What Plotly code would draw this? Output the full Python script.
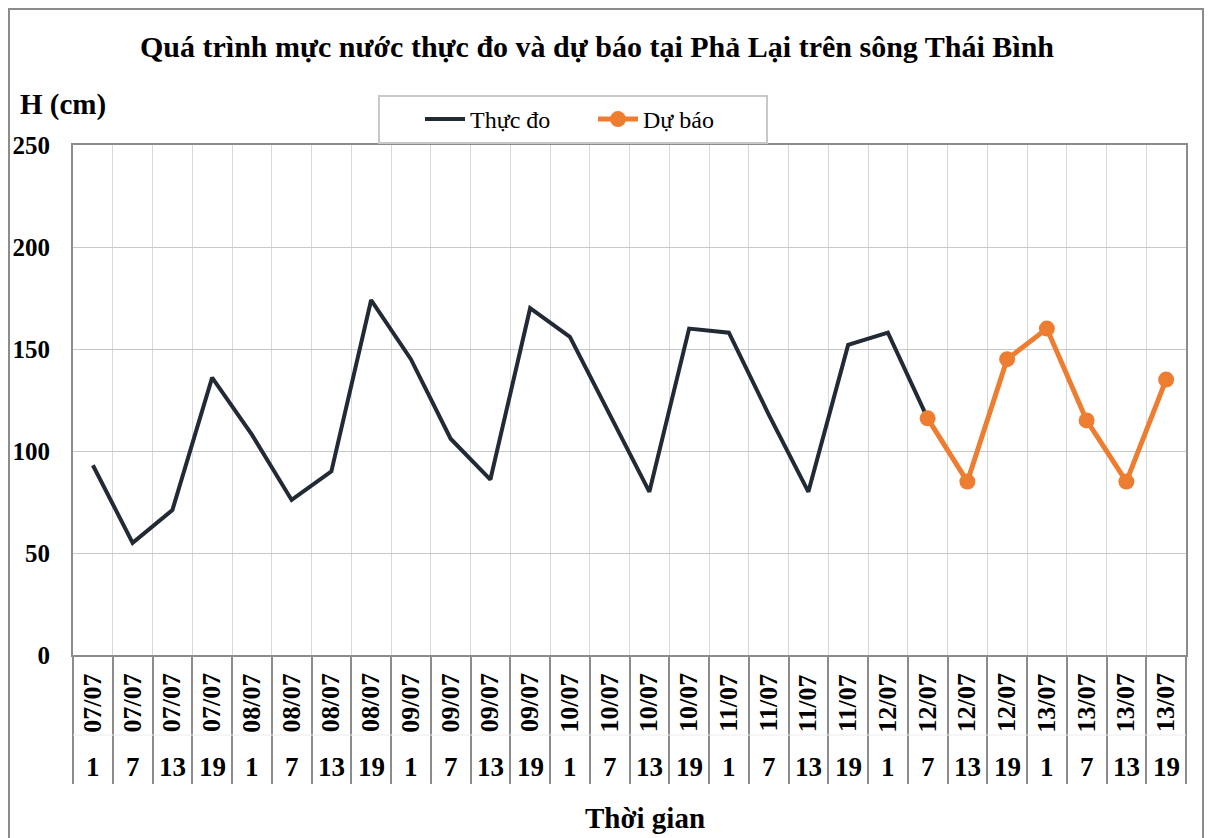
import plotly.graph_objects as go

dates = ["07/07"] * 4 + ["08/07"] * 4 + ["09/07"] * 4 + ["10/07"] * 4 + ["11/07"] * 4 + ["12/07"] * 4 + ["13/07"] * 4
hours = ["1", "7", "13", "19"] * 7
observed = [93, 55, 71, 136, 108, 76, 90, 174, 145, 106, 86, 170, 156, 118, 80, 160, 158, 118, 80, 152, 158, 116]
forecast = [116, 85, 145, 160, 115, 85, 135]
forecast_start = 21

cats = [f"{d} {h}" for d, h in zip(dates, hours)]

SERIF = "Liberation Serif, Times New Roman, serif"

fig = go.Figure()
fig.add_trace(go.Scatter(
    x=cats[:len(observed)], y=observed, mode="lines", name="Thực đo",
    line=dict(color="#222a35", width=4),
))
fig.add_trace(go.Scatter(
    x=cats[forecast_start:forecast_start + len(forecast)], y=forecast, mode="lines+markers", name="Dự báo",
    line=dict(color="#ed7d31", width=5), marker=dict(color="#ed7d31", size=16),
))

annotations = []
for c, d, h in zip(cats, dates, hours):
    annotations.append(dict(x=c, xref="x", y=-0.094, yref="paper", text=f"<b>{d}</b>", textangle=-90,
                            showarrow=False, font=dict(family=SERIF, size=26, color="black"),
                            xanchor="center", yanchor="middle"))
    annotations.append(dict(x=c, xref="x", y=-0.219, yref="paper", text=f"<b>{h}</b>",
                            showarrow=False, font=dict(family=SERIF, size=27, color="black"),
                            xanchor="center", yanchor="middle"))

annotations.append(dict(x=0.0, xref="paper", y=1.08, yref="paper", text="<b>H (cm)</b>", showarrow=False,
                        font=dict(family=SERIF, size=29, color="black"), xanchor="right", yanchor="middle",
                        xshift=35))
annotations.append(dict(x=0.514, xref="paper", y=-0.32, yref="paper", text="<b>Thời gian</b>", showarrow=False,
                        font=dict(family=SERIF, size=29, color="black"), xanchor="center", yanchor="middle"))

fig.update_layout(
    width=1214, height=838,
    margin=dict(l=65, r=36, t=137, b=191, autoexpand=False),
    paper_bgcolor="white", plot_bgcolor="white",
    title=dict(text="<b>Quá trình mực nước thực đo và dự báo tại Phả Lại trên sông Thái Bình</b>",
               x=(597 - 8) / 1214, xref="container", xanchor="center", y=1 - 38 / 838, yref="container",
               yanchor="middle", font=dict(family=SERIF, size=30, color="black")),
    showlegend=True,
    legend=dict(orientation="h", x=(378 - 73) / 1113, xanchor="left", y=(655 - 95) / 510, yanchor="top",
                bordercolor="#c8c8c8", borderwidth=2, bgcolor="white",
                font=dict(family=SERIF, size=24, color="black"), entrywidth=118, itemwidth=40,
                title=dict(text="&nbsp;" * 5, side="left", font=dict(family=SERIF, size=24))),
    annotations=annotations,
    shapes=[
        dict(type="rect", xref="paper", yref="paper", x0=(9 - 73) / 1113, x1=(1203 - 73) / 1113,
             y0=(655 - 850) / 510, y1=(655 - 9) / 510, line=dict(color="#8c8c8c", width=2), layer="below"),
        dict(type="line", xref="paper", yref="paper", x0=0, x1=1, y0=(655 - 735) / 510, y1=(655 - 735) / 510,
             line=dict(color="#ececec", width=1)),
    ],
)
fig.update_xaxes(
    type="category", categoryorder="array", categoryarray=cats, range=[-0.5, len(cats) - 0.5],
    showticklabels=False, tickson="boundaries", ticks="outside", ticklen=127, tickwidth=2, tickcolor="#8c8c8c",
    showgrid=True, gridcolor="#d9d9d9", gridwidth=1, automargin=False,
    showline=True, linecolor="#8c8c8c", linewidth=2, mirror=True, zeroline=False,
)
fig.update_yaxes(
    range=[0, 250], dtick=50, tick0=0, showgrid=True, gridcolor="#c8c8c8", gridwidth=1, automargin=False,
    showline=True, linecolor="#8c8c8c", linewidth=2, mirror=True, zeroline=False,
    tickfont=dict(family=SERIF, size=25, color="black"), ticklabelstandoff=16,
    tickprefix="<b>", ticksuffix="</b>",
)

fig.write_html("out.html")
